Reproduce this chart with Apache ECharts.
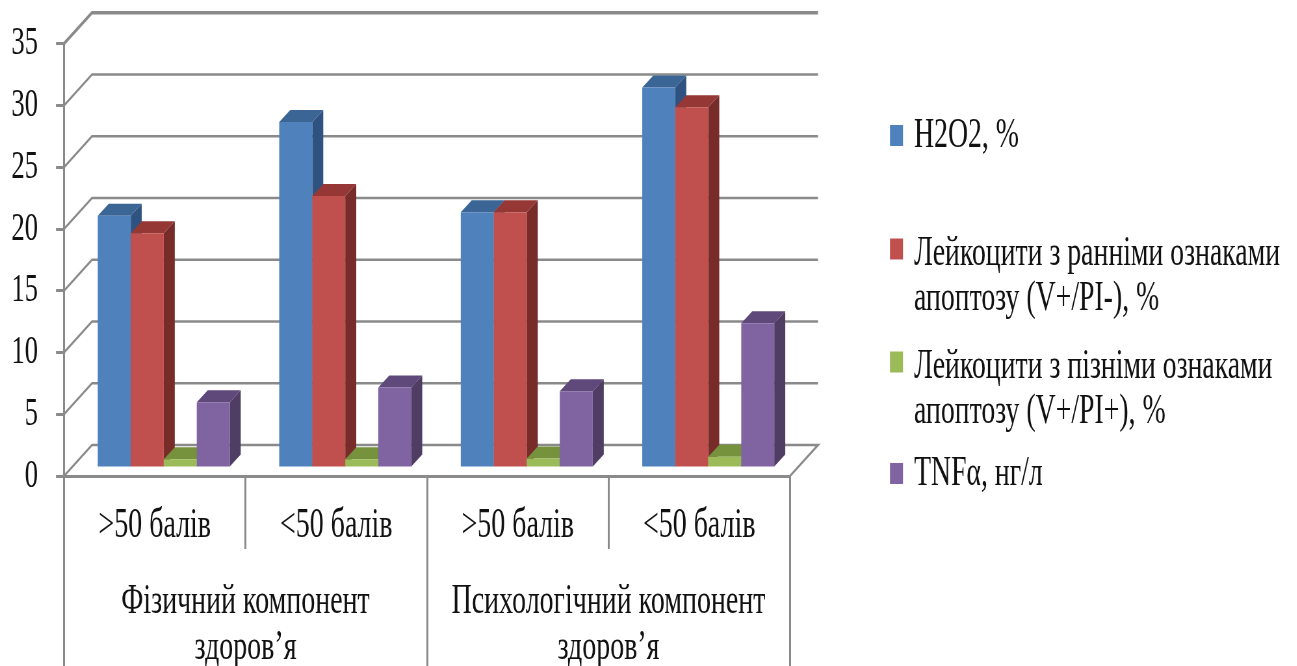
<!DOCTYPE html>
<html>
<head>
<meta charset="utf-8">
<style>
  html, body { margin: 0; padding: 0; background: #fff; overflow: hidden; width: 1297px; height: 666px; }
  /* The chart is laid out wide and narrowed horizontally, which gives the condensed lettering and tall swatches. */
  #chart { position: absolute; left: 0; top: 0; width: 1996px; height: 666px; transform: scaleX(0.65); transform-origin: 0 0; }
</style>
</head>
<body>
<div id="chart"></div>
<script src="https://cdn.jsdelivr.net/npm/echarts@6/dist/echarts.min.js"></script>
<script>
const groups = ['>50 балів', '<50 балів', '>50 балів', '<50 балів'];
const components = ['Фізичний компонент\nздоров’я', 'Психологічний компонент\nздоров’я'];
const seriesNames = [
  'H2O2, %',
  'Лейкоцити з ранніми ознаками\nапоптозу (V+/PI-), %',
  'Лейкоцити з пізніми ознаками\nапоптозу (V+/PI+), %',
  'TNFα, нг/л'
];
const h2o2 = [20.3, 27.9, 20.6, 30.7];
const earlyApoptosis = [18.9, 21.9, 20.6, 29.1];
const lateApoptosis = [0.6, 0.6, 0.65, 0.8];
const tnfAlpha = [5.2, 6.4, 6.1, 11.6];
const wallTicks = [0, 5, 10, 15, 20, 25, 30, 35];

const frontColors = ['#4F81BD', '#C0504D', '#9BBB59', '#8064A2'];
const topColors = ['#3A6595', '#953735', '#76923C', '#5F497A'];
const sideColors = ['#2F5380', '#772C2A', '#5F7530', '#4F3D63'];

const SX = 0.65;
const px = v => v / SX;             // horizontal screen pixels to layout pixels
const LINE = '#8a8a8a';
const FONT = '"Liberation Serif", "Times New Roman", serif';
const GRID = { left: px(64), right: 1996 - px(790), top: 43.7, bottom: 190, outerBoundsMode: 'none' };
const FLOOR = { dx: px(28), dy: -31 };      // depth of the wall behind the front plane
const BAR = { dx: px(11), dy: -12, shiftX: px(9), shiftY: -9.4 };   // bar depth, and its offset on the floor

// Perspective walls: each level runs back from the front axis, then along the rear wall.
function renderWall(params, api) {
  const v = api.value(0);
  const y = api.coord([0, v])[1];
  const cs = params.coordSys;
  const pts = [[cs.x, y], [cs.x + FLOOR.dx, y + FLOOR.dy], [cs.x + cs.width + FLOOR.dx, y + FLOOR.dy]];
  if (v === 0) pts.push([cs.x + cs.width, y]);
  return {
    type: 'polyline', silent: true,
    shape: { points: pts },
    style: { fill: null, stroke: LINE, lineWidth: v === 35 ? 3.5 : 2.6 }
  };
}

// One box per value: front face, lid and right side, placed by the axis scales.
function boxRenderer(slot) {
  return function (params, api) {
    const cat = api.value(0);
    const top = api.coord([cat, api.value(1)]);
    const base = api.coord([cat, 0]);
    const band = api.size([1, 0])[0];
    const w = band / 5.5;
    const x0 = top[0] + (slot - 2) * w + BAR.shiftX;
    const x1 = x0 + w;
    const yt = top[1] + BAR.shiftY;
    const yb = base[1] + BAR.shiftY;
    const d = BAR;
    return {
      type: 'group', silent: true,
      children: [
        { type: 'polygon', shape: { points: [[x1, yt], [x1 + d.dx, yt + d.dy], [x1 + d.dx, yb + d.dy], [x1, yb]] }, style: { fill: sideColors[slot] } },
        { type: 'polygon', shape: { points: [[x0, yt], [x0 + d.dx, yt + d.dy], [x1 + d.dx, yt + d.dy], [x1, yt]] }, style: { fill: topColors[slot] } },
        { type: 'rect', shape: { x: x0, y: yt, width: w, height: yb - yt }, style: { fill: frontColors[slot] } }
      ]
    };
  };
}

const valueSets = [h2o2, earlyApoptosis, lateApoptosis, tnfAlpha];
const legendTops = [136, 249, 362, 474];
const legendText = { color: '#111', fontFamily: FONT, fontSize: 42.7, lineHeight: 45 };

// Two-line entries get a taller empty first row, so the swatch sits level with the first text line.
function legendLabel(name) {
  if (!name.includes('\n')) return name;
  return '{gap| }\n' + name.split('\n').map(line => '{t|' + line + '}').join('\n');
}

const chart = echarts.init(document.getElementById('chart'));
chart.setOption({
  animation: false,
  backgroundColor: '#fff',
  grid: GRID,
  xAxis: [
    {
      type: 'category', data: groups, position: 'bottom',
      axisLine: { lineStyle: { color: LINE, width: 3 } },
      axisTick: { show: true, interval: 0, length: 73, lineStyle: { color: LINE, width: 3 } },
      axisLabel: { interval: 0, margin: 28, color: '#111', fontFamily: FONT, fontSize: 43 }
    },
    {
      type: 'category', data: components, position: 'bottom',
      axisLine: { show: false },
      axisTick: { show: true, interval: 0, length: 192, lineStyle: { color: LINE, width: 3 } },
      axisLabel: { interval: 0, margin: 103, color: '#111', fontFamily: FONT, fontSize: 43, lineHeight: 46, align: 'center' }
    }
  ],
  yAxis: {
    type: 'value', min: 0, max: 35, interval: 5,
    axisLine: { show: true, lineStyle: { color: LINE, width: 3 } },
    axisTick: { show: true, length: px(8), lineStyle: { color: LINE, width: 3 } },
    axisLabel: { margin: px(26), color: '#111', fontFamily: FONT, fontSize: 41 },
    splitLine: { show: false }
  },
  legend: seriesNames.map((name, i) => ({
    data: [name],
    orient: 'vertical',
    left: px(890),
    top: legendTops[i] - (name.includes('\n') ? 72.5 : 23),
    padding: 0,
    icon: 'rect',
    itemWidth: px(13),
    itemHeight: 21,
    itemGap: 0,
    selectedMode: false,
    formatter: legendLabel,
    textStyle: {
      ...legendText,
      padding: [0, 0, 0, 12],
      rich: { gap: { ...legendText, lineHeight: 55 }, t: { ...legendText } }
    }
  })),
  series: [
    {
      type: 'custom', name: 'wall', xAxisIndex: 0, yAxisIndex: 0, z: 1,
      renderItem: renderWall, encode: { y: 0 },
      data: wallTicks.map(v => [v])
    }
  ].concat(seriesNames.map((name, i) => ({
    type: 'custom', name, xAxisIndex: 0, yAxisIndex: 0, z: 3 + i,
    itemStyle: { color: frontColors[i] },
    renderItem: boxRenderer(i),
    encode: { x: 0, y: 1 },
    data: valueSets[i].map((v, c) => [c, v])
  })))
});
</script>
</body>
</html>
